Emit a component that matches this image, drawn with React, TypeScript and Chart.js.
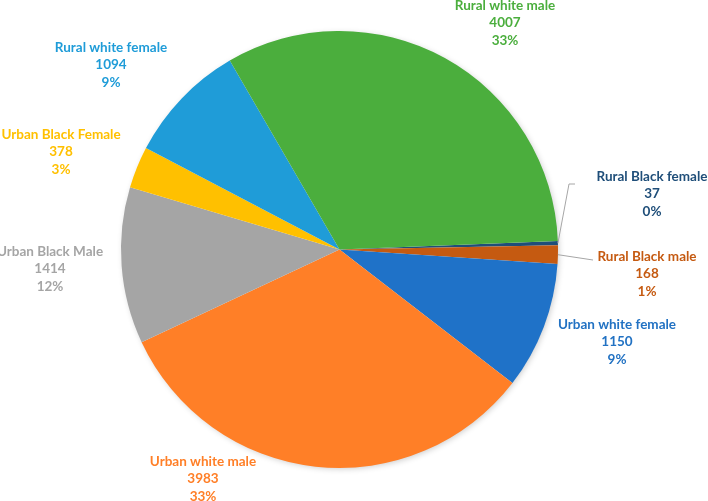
import React, { useEffect, useRef } from "react";
import { Chart, registerables } from "chart.js";

Chart.register(...registerables);

const categories = [
  "Rural Black female",
  "Rural Black male",
  "Urban white female",
  "Urban white male",
  "Urban Black Male",
  "Urban Black Female",
  "Rural white female",
  "Rural white male",
];
const counts = [37, 168, 1150, 3983, 1414, 378, 1094, 4007];
const percentLabels = ["0%", "1%", "9%", "33%", "12%", "3%", "9%", "33%"];
const sliceColors = ["#1F4E79", "#C55A11", "#1F72C8", "#FF7F27", "#A5A5A5", "#FFC000", "#1F9CD8", "#4BAE3D"];
const textColors = ["#1F4E79", "#C55A11", "#2272C3", "#FF7F27", "#A5A5A5", "#FFC000", "#1F9CD8", "#4BAE3D"];

// label block centers relative to pie centre (layout only)
const labelOffsets: [number, number][] = [
  [312.5, -55.5],
  [307.5, 24.5],
  [277.5, 92.5],
  [-136.5, 229.5],
  [-289.5, 19.5],
  [-278.5, -97.5],
  [-228.5, -184.5],
  [165.5, -226.5],
];
// leader line points relative to label centre
const leaderPoints: Record<number, [number, number][]> = {
  0: [[-83, -10], [-77, -10]],
  1: [[-54, -14]],
};

const labelPlugin = {
  id: "pieLabels",
  beforeDatasetsDraw(chart: any) {
    const ctx = chart.ctx;
    ctx.save();
    ctx.shadowColor = "rgba(0,0,0,0.22)";
    ctx.shadowBlur = 6;
    ctx.shadowOffsetX = 1.5;
    ctx.shadowOffsetY = 1.5;
    const arc = chart.getDatasetMeta(0).data[0];
    if (arc) {
      ctx.beginPath();
      ctx.arc(arc.x, arc.y, arc.outerRadius - 1, 0, Math.PI * 2);
      ctx.fillStyle = "#ffffff";
      ctx.fill();
    }
    ctx.restore();
  },
  afterDatasetsDraw(chart: any) {
    const ctx = chart.ctx;
    const meta = chart.getDatasetMeta(0);
    ctx.save();
    ctx.font = "bold 13.5px Lato, 'Open Sans', sans-serif";
    ctx.textAlign = "center";
    ctx.textBaseline = "middle";
    meta.data.forEach((a: any, i: number) => {
      const cx = a.x + labelOffsets[i][0];
      const cy = a.y + labelOffsets[i][1];
      const pts = leaderPoints[i];
      if (pts) {
        const mid = (a.startAngle + a.endAngle) / 2;
        const ex = a.x + Math.cos(mid) * a.outerRadius;
        const ey = a.y + Math.sin(mid) * a.outerRadius;
        ctx.beginPath();
        ctx.strokeStyle = "#A6A6A6";
        ctx.lineWidth = 1;
        ctx.moveTo(ex, ey);
        pts.forEach((p) => ctx.lineTo(cx + p[0], cy + p[1]));
        ctx.stroke();
      }
      ctx.fillStyle = textColors[i];
      ctx.fillText(categories[i], cx, cy - 17.5);
      ctx.fillText(String(counts[i]), cx, cy);
      ctx.fillText(percentLabels[i], cx, cy + 17.5);
    });
    ctx.restore();
  },
};

export default function App() {
  const ref = useRef<HTMLCanvasElement>(null);
  useEffect(() => {
    if (!ref.current) return;
    const chart = new Chart(ref.current, {
      type: "pie",
      data: {
        labels: categories,
        datasets: [
          {
            data: counts,
            backgroundColor: sliceColors,
            borderWidth: 0,
            hoverOffset: 0,
            offset: 0,
          },
        ],
      },
      options: {
        animation: false,
        responsive: false,
        rotation: 87.8,
        layout: { padding: { top: 31, bottom: 33, left: 121, right: 150 } },
        plugins: { legend: { display: false }, tooltip: { enabled: false } },
      },
      plugins: [labelPlugin],
    });
    return () => chart.destroy();
  }, []);
  return (
    <div style={{ position: "fixed", left: 0, top: 0, width: 708, height: 501, background: "#fff" }}>
      <canvas ref={ref} width={708} height={501} style={{ width: 708, height: 501 }} />
    </div>
  );
}
